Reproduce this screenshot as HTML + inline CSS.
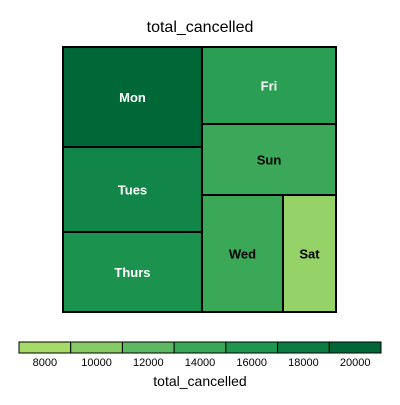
<!DOCTYPE html>
<html><head><meta charset="utf-8"><style>
body{margin:0;background:#fff}
svg text{font-family:"Liberation Sans",Arial,sans-serif}
</style></head><body>
<svg id="chart" width="400" height="400">
<text x="200" y="32" text-anchor="middle" font-size="16">total_cancelled</text>
<g id="tiles"></g>
<g id="legend"></g>
</svg>
<script>
const days = ["Mon","Tues","Thurs","Fri","Sun","Wed","Sat"];
const values = [20300,17250,16240,15070,13900,13840,9060];
const legendTicks = [8000,10000,12000,14000,16000,18000,20000];
const legendColors = ["#a6db6a","#86cb66","#5db961","#38a757","#1d9650","#0b7d43","#006837"];

const NS="http://www.w3.org/2000/svg";
function mk(tag,attrs,parent){const e=document.createElementNS(NS,tag);for(const k in attrs)e.setAttribute(k,attrs[k]);parent.appendChild(e);return e;}
function hex(c){return [1,3,5].map(i=>parseInt(c.substr(i,2),16));}
function colorFor(v){
  const t0=legendTicks[0],step=legendTicks[1]-legendTicks[0];
  let p=(v-t0)/step; p=Math.max(0,Math.min(legendColors.length-1,p));
  const i=Math.min(Math.floor(p),legendColors.length-2),f=p-i;
  const a=hex(legendColors[i]),b=hex(legendColors[i+1]);
  return "rgb("+a.map((x,k)=>Math.round(x+(b[k]-x)*f)).join(",")+")";
}
const X0=63,Y0=47,X1=336,Y1=312,W=X1-X0,H=Y1-Y0;
const total=values.reduce((a,b)=>a+b,0);
const rects=[];
// left column: Mon, Tues, Thurs
const leftSum=values[0]+values[1]+values[2];
const lw=W*leftSum/total;
let y=Y0;
for(let i=0;i<3;i++){const h=H*values[i]/leftSum;rects.push([X0,y,lw,h]);y+=h;}
// right: Fri, Sun stacked, then Wed/Sat row
const rx=X0+lw,rw=W-lw,rightSum=total-leftSum;
y=Y0;
for(let i=3;i<5;i++){const h=H*values[i]/rightSum;rects.push([rx,y,rw,h]);y+=h;}
const rowH=Y1-y,rowSum=values[5]+values[6];
let x=rx;
for(let i=5;i<7;i++){const w=rw*values[i]/rowSum;rects.push([x,y,w,rowH]);x+=w;}
const tiles=document.getElementById("tiles");
days.forEach((d,i)=>{
  const [rx_,ry,rw_,rh]=rects[i];
  const r=mk("rect",{x:rx_,y:ry,width:rw_,height:rh,fill:colorFor(values[i]),stroke:"#000","stroke-width":2},tiles);
  
  
  const t=mk("text",{x:rx_+rw_/2,y:ry+rh/2+5,"text-anchor":"middle","font-size":13,"font-weight":"bold",fill:values[i]>14500?"#fff":"#000"},tiles);
  t.textContent=d;
  
  
});
const lg=document.getElementById("legend");
const LX0=19,LX1=381,bw=(LX1-LX0)/legendColors.length;
legendColors.forEach((c,i)=>{
  const r=mk("rect",{x:LX0+i*bw,y:342,width:bw,height:11,fill:c,stroke:"#000","stroke-width":1},lg);
  
  
  const t=mk("text",{x:LX0+i*bw+bw/2,y:366,"text-anchor":"middle","font-size":11},lg);
  t.textContent=legendTicks[i];
  
  
});
const lt=mk("text",{x:200,y:386,"text-anchor":"middle","font-size":14},lg);
lt.textContent="total_cancelled";


</script>
</body></html>
